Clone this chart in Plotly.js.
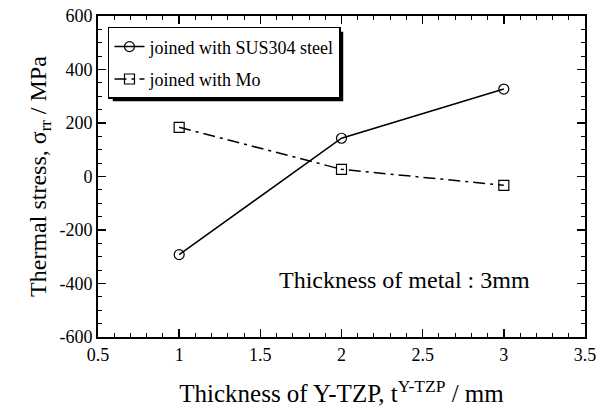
<!DOCTYPE html>
<html><head><meta charset="utf-8">
<script src="https://cdn.plot.ly/plotly-3.0.1.min.js"></script>
<style>body{margin:0;background:#fff}#c{width:604px;height:420px}#n{position:absolute;left:0;top:0;font:1px monospace;color:#fff}</style>
</head><body><div id="c"></div><div id="n"></div>
<script>
const thickness = [1, 2, 3];
const susStress = [-292, 143, 327];
const moStress = [184, 27, -33];
const seriesNames = ['joined with SUS304 steel', 'joined with Mo'];
const xTickVals = [0.5, 1, 1.5, 2, 2.5, 3, 3.5];
const xTickText = ['0.5', '1', '1.5', '2', '2.5', '3', '3.5'];
const yTickVals = [-600, -400, -200, 0, 200, 400, 600];
const yTickText = ['-600', '-400', '-200', '0', '200', '400', '600'];
const noteText = 'Thickness of metal : 3mm';

const F = 'Liberation Serif';
const traces = [
  {x: thickness, y: susStress, name: seriesNames[0], mode: 'lines+markers', legendgroup: 'a',
   line: {color: '#000', width: 1.5, dash: 'solid'},
   marker: {symbol: 'circle-open', size: 10, color: '#000', line: {width: 1.2}}},
  {x: thickness, y: moStress, name: seriesNames[1], mode: 'lines+markers', legendgroup: 'b',
   line: {color: '#000', width: 1.5, dash: '12px,5px,3px,5px'},
   marker: {symbol: 'square-open', size: 10, color: '#000', line: {width: 1.2}}}
];
const ax = {
  showline: true, linewidth: 2, linecolor: '#000', mirror: 'allticks',
  ticks: 'inside', ticklen: 8, tickwidth: 1.5, tickcolor: '#000',
  showgrid: false, zeroline: false,
  tickfont: {family: F, size: 18, color: '#000'}
};
const layout = {
  width: 604, height: 420,
  font: {family: F, size: 18, color: '#000'},
  margin: {l: 98, r: 19, t: 16, b: 83},
  paper_bgcolor: '#fff', plot_bgcolor: '#fff',
  xaxis: Object.assign({}, ax, {range: [0.5, 3.5], tickmode: 'array', tickvals: xTickVals, ticktext: xTickText,
    minor: {dtick: 0.1, tick0: 0.5, ticks: 'inside', ticklen: 4, tickwidth: 1, tickcolor: '#000'},
    title: {text: 'Thickness of Y-TZP, t<sup>Y-TZP</sup> / mm', font: {family: F, size: 25, color: '#000'}, standoff: 21}}),
  yaxis: Object.assign({}, ax, {range: [-600, 600], tickmode: 'array', tickvals: yTickVals, ticktext: yTickText,
    minor: {dtick: 50, tick0: 0, ticks: 'inside', ticklen: 4, tickwidth: 1, tickcolor: '#000'},
    title: {text: 'Thermal stress, σ<sub>rr</sub> / MPa', font: {family: F, size: 24, color: '#000'}, standoff: 6}}),
  showlegend: true,
  legend: {x: 0.0205, y: 0.966, xanchor: 'left', yanchor: 'top', traceorder: 'grouped',
    bgcolor: '#fff', bordercolor: '#000', borderwidth: 1.5,
    font: {family: F, size: 18, color: '#000'}, tracegroupgap: 6},
  annotations: [
    {text: noteText, xref: 'x', yref: 'y', x: 2.39, y: -387, showarrow: false,
     font: {family: F, size: 24, color: '#000'}}
  ]
};
function fixFonts(gd) {
  gd.querySelectorAll('.xtick text, .ytick text, .legendtext').forEach(function (t) {
    t.setAttribute('font-family', F);
    t.setAttribute('font-size', '18');
    t.style.setProperty('font-family', '"' + F + '", serif', 'important');
    t.style.setProperty('font-size', '18px', 'important');
  });
}
Plotly.newPlot('c', traces, layout, {displayModeBar: false, staticPlot: true}).then(function (gd) {
  fixFonts(gd);
  const bg = gd.querySelector('.legend .bg');
  const root = gd.getBoundingClientRect();
  const r = bg.getBoundingClientRect();
  const s = gd._fullLayout._size;
  const px2x = p => (p - root.left - s.l) / s.w;
  const px2y = p => 1 - (p - root.top - s.t) / s.h;
  return Plotly.relayout(gd, {shapes: [{type: 'rect', xref: 'paper', yref: 'paper',
    x0: px2x(r.left + 4), x1: px2x(r.right + 3), y0: px2y(r.bottom + 3), y1: px2y(r.top + 4),
    fillcolor: '#000', line: {width: 0}, layer: 'above'}]});
}).then(function () {
  const gd = document.getElementById('c');
  fixFonts(gd);
  const t = gd.querySelector('.xtick text');
  document.getElementById('n').textContent = t ? t.getAttribute('font-family') : '';
});
</script></body></html>
